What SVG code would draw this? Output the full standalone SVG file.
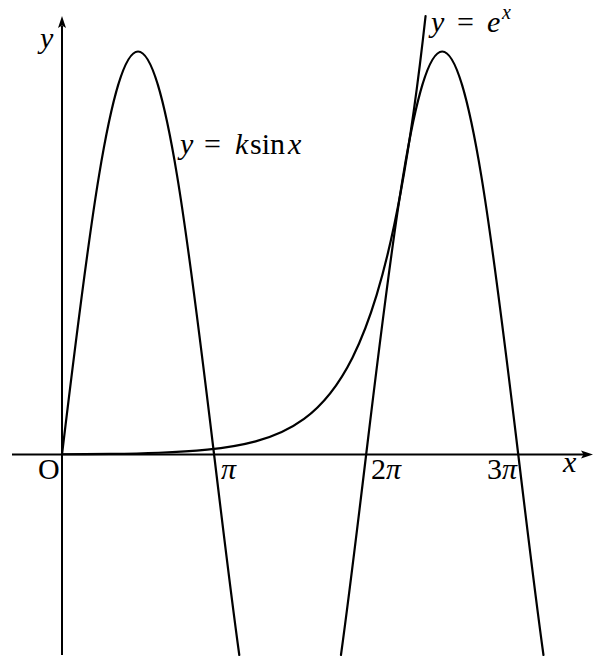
<svg xmlns="http://www.w3.org/2000/svg" width="596" height="659" viewBox="0 0 596 659">
<defs>
<style>
.ax{stroke:#000;stroke-width:2;fill:none}
.cv{stroke:#000;stroke-width:2.2;fill:none;stroke-linejoin:round;stroke-linecap:round}
.head{fill:#000;stroke:none}
text{font-family:"Liberation Serif","DejaVu Serif",serif;fill:#000}
.it{font-style:italic}
</style>
</defs>
<rect width="596" height="659" fill="#fff"/>
<g id="axes">
<line class="ax" x1="12" y1="454.5" x2="586" y2="454.5"/>
<polygon class="head" points="593,454.5 581,450.5 583.5,454.5 581,458.5"/>
<line class="ax" x1="62" y1="655" x2="62" y2="26"/>
<polygon class="head" points="62,16 58,28 62,25.5 66,28"/>
</g>
<g id="connectors">
<path id="sine1" class="cv" d="M62,454.5 C86.80,248.05 110.52,51.5 138.04,51.5 C165.56,51.5 189.28,248.05 214.08,454.5 C222.48,524.45 230.88,594.31 239.29,655"/>
<path id="sine2" class="cv" d="M340.96,655 C349.37,594.31 357.77,524.45 366.17,454.5 C390.97,248.05 414.69,51.5 442.21,51.5 C469.73,51.5 493.46,248.05 518.26,454.5 C526.66,524.45 535.06,594.31 543.47,655"/>
<path id="exp" class="cv" d="M62,454.26 C78.14,454.18 94.27,454.07 110.41,453.85 C126.55,453.63 142.68,453.32 158.82,452.73 C174.96,452.14 191.09,451.29 207.23,449.68 C223.37,448.07 239.50,445.77 255.64,441.40 C271.78,437.03 287.91,430.75 304.05,418.88 C320.19,407.01 336.32,389.95 352.46,357.68 C360.53,341.54 368.60,321.48 376.67,294.87 C384.74,268.27 392.80,235.18 400.87,191.31 C409.10,146.57 417.33,90.72 425.56,16.21"/>
</g>
<g id="labels" font-size="30">
<text class="it" x="40" y="48">y</text>
<text x="38" y="479" font-size="30">O</text>
<text class="it" x="221" y="479">π</text>
<text x="371" y="479">2<tspan class="it">π</tspan></text>
<text x="487" y="479">3<tspan class="it">π</tspan></text>
<text class="it" x="563" y="472">x</text>
<text y="154"><tspan class="it" x="180">y</tspan><tspan x="204">=</tspan><tspan class="it" x="235">k</tspan><tspan x="250">sin</tspan><tspan class="it" x="288">x</tspan></text>
<text y="32"><tspan class="it" x="431">y</tspan><tspan x="457">=</tspan><tspan class="it" x="487">e</tspan><tspan class="it" x="502" y="19" font-size="20">x</tspan></text>
</g>
</svg>
